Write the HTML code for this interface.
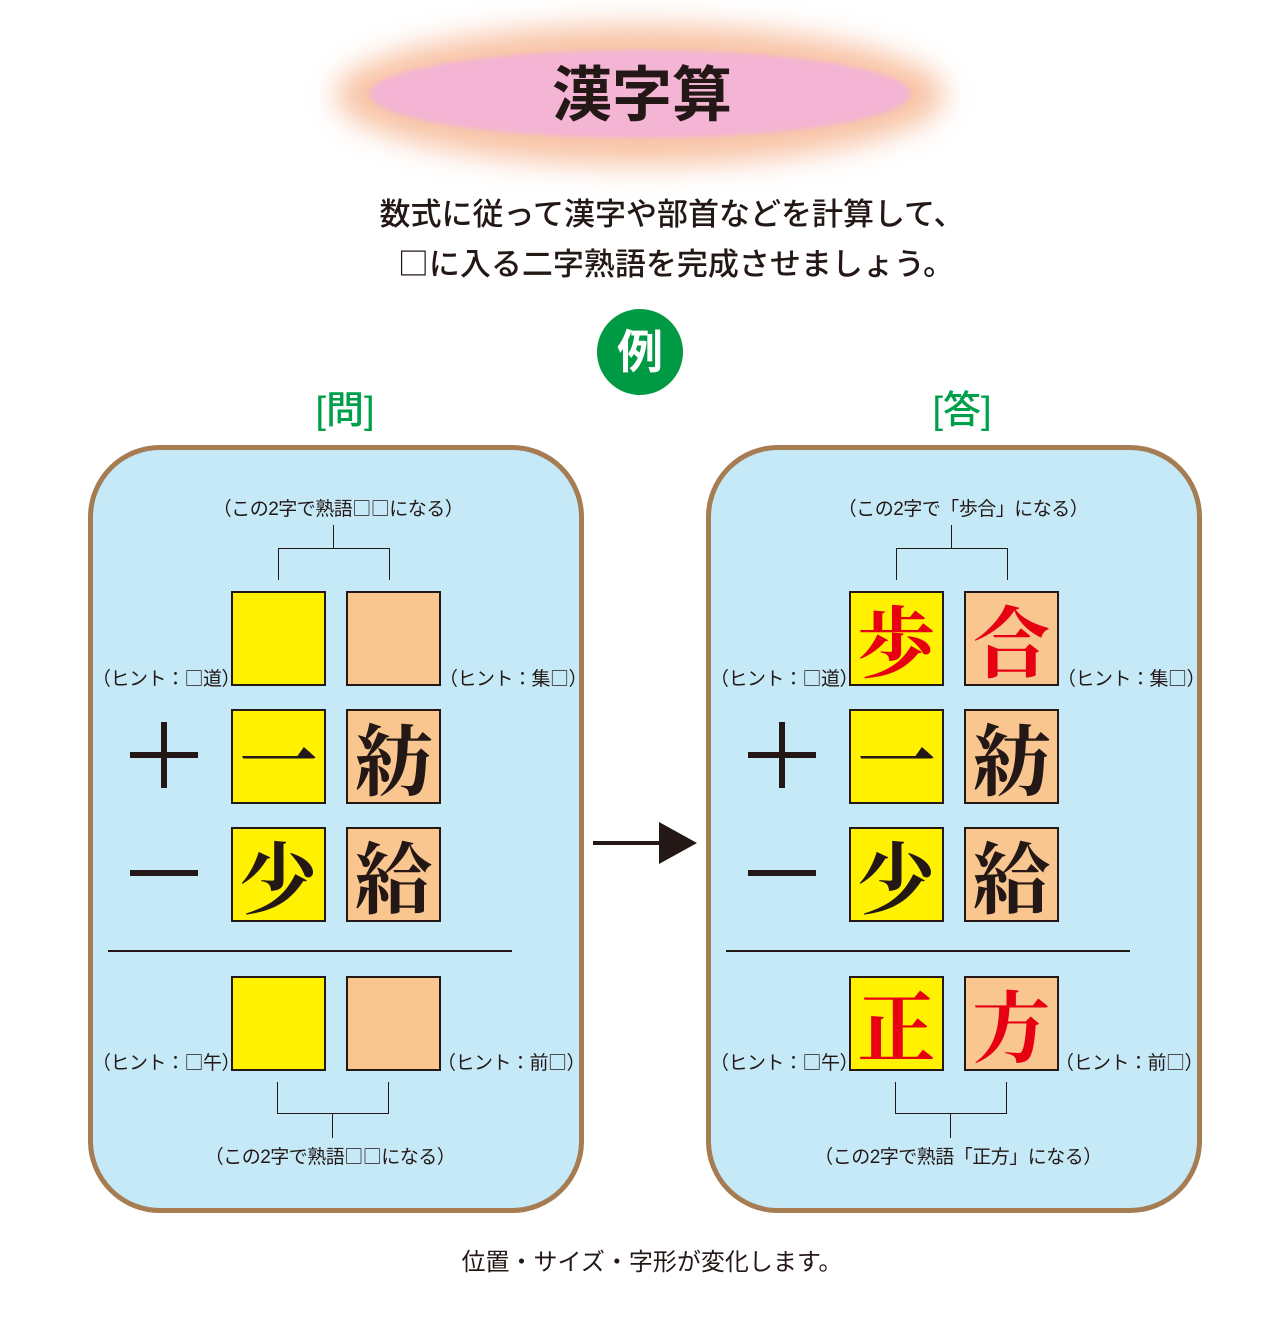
<!DOCTYPE html>
<html><head><meta charset="utf-8"><style>
body{margin:0;width:1280px;height:1327px;background:#fff;position:relative;overflow:hidden;font-family:"Liberation Sans","Noto Sans CJK JP",sans-serif;color:#231815}
.a{position:absolute}
.t{position:absolute;white-space:nowrap;transform:translateX(-50%)}
.panel{position:absolute;top:445px;width:486px;height:758px;border:5px solid #a67c52;border-radius:72px;background:#c6e9f8}
.box{position:absolute;width:91px;height:91px;border:2px solid #231815;font-family:"Noto Serif CJK JP","Noto Serif CJK SC",serif;font-size:78px;line-height:91px;text-align:center;font-weight:700}
.y{background:#fff100}.o{background:#fac68f}
.r{color:#e60012}
.ln{position:absolute;background:#231815}
.s{font-size:19px;letter-spacing:-0.5px}
.q{font-family:"Noto Sans CJK JP",sans-serif}
</style></head><body>
<div class="a" style="left:335px;top:25px;width:610px;height:140px;border-radius:50%;background:#f8c4a6;filter:blur(14px)"></div>
<div class="a" style="left:370px;top:50px;width:540px;height:88px;border-radius:50%;background:#f4b4d4;filter:blur(2px)"></div>
<div class="t" style="left:642px;top:56px;font-size:60px;font-weight:bold;line-height:80px">漢字算</div>
<div class="t" style="left:672px;top:194px;font-size:31px;line-height:42px;font-weight:500">数式に従って漢字や部首などを計算して、</div>
<div class="t" style="left:676px;top:241px;font-size:31px;line-height:42px;font-weight:500"><span class="q">□</span>に入る二字熟語を完成させましょう。</div>
<div class="a" style="left:597px;top:309px;width:86px;height:86px;border-radius:50%;background:#009944"></div>
<div class="t" style="left:640px;top:322px;font-size:46px;line-height:60px;color:#fff;font-weight:bold">例</div>
<div class="t" style="left:345px;top:388px;font-size:38px;line-height:46px;color:#00a04a;font-weight:500">[問]</div>
<div class="t" style="left:962px;top:388px;font-size:38px;line-height:46px;color:#00a04a;font-weight:500">[答]</div>
<div class="panel" style="left:88px"></div>
<div class="panel" style="left:706px"></div>
<div class="ln" style="left:593px;top:841px;width:70px;height:4px"></div>
<div class="a" style="left:659px;top:822px;width:0;height:0;border-top:21px solid transparent;border-bottom:21px solid transparent;border-left:38px solid #231815"></div>
<div class="t" style="left:652px;top:1246px;font-size:24px;line-height:34px">位置・サイズ・字形が変化します。</div>

<!-- left panel -->
<div class="a" style="left:0;top:0">
<div class="t s" style="left:338px;top:494px">（この2字で熟語<span class="q">□□</span>になる）</div>
<div class="ln" style="left:333px;top:525px;width:1px;height:23px"></div>
<div class="ln" style="left:278px;top:548px;width:112px;height:1px"></div>
<div class="ln" style="left:278px;top:548px;width:1px;height:32px"></div>
<div class="ln" style="left:389px;top:548px;width:1px;height:32px"></div>
<div class="box y" style="left:231px;top:591px"></div>
<div class="box o" style="left:346px;top:591px"></div>
<div class="t s" style="left:166px;top:664px">（ヒント：<span class="q">□</span>道）</div>
<div class="t s" style="left:513px;top:664px">（ヒント：集<span class="q">□</span>）</div>
<div class="ln" style="left:130px;top:752px;width:68px;height:6px"></div>
<div class="ln" style="left:161px;top:722px;width:6px;height:66px"></div>
<div class="ln" style="left:130px;top:870px;width:68px;height:6px"></div>
<div class="box y" style="left:231px;top:709px">一</div>
<div class="box o" style="left:346px;top:709px">紡</div>
<div class="box y" style="left:231px;top:827px">少</div>
<div class="box o" style="left:346px;top:827px">給</div>
<div class="ln" style="left:108px;top:950px;width:404px;height:2px"></div>
<div class="box y" style="left:231px;top:976px"></div>
<div class="box o" style="left:346px;top:976px"></div>
<div class="t s" style="left:166px;top:1048px">（ヒント：<span class="q">□</span>午）</div>
<div class="t s" style="left:511px;top:1048px">（ヒント：前<span class="q">□</span>）</div>
<div class="ln" style="left:277px;top:1082px;width:1px;height:31px"></div>
<div class="ln" style="left:388px;top:1082px;width:1px;height:31px"></div>
<div class="ln" style="left:277px;top:1113px;width:112px;height:1px"></div>
<div class="ln" style="left:332px;top:1113px;width:1px;height:25px"></div>
<div class="t s" style="left:330px;top:1142px">（この2字で熟語<span class="q">□□</span>になる）</div>
</div>

<!-- right panel -->
<div class="a" style="left:618px;top:0">
<div class="t s" style="left:345px;top:494px">（この2字で「歩合」になる）</div>
<div class="ln" style="left:333px;top:525px;width:1px;height:23px"></div>
<div class="ln" style="left:278px;top:548px;width:112px;height:1px"></div>
<div class="ln" style="left:278px;top:548px;width:1px;height:32px"></div>
<div class="ln" style="left:389px;top:548px;width:1px;height:32px"></div>
<div class="box y r" style="left:231px;top:591px">歩</div>
<div class="box o r" style="left:346px;top:591px">合</div>
<div class="t s" style="left:166px;top:664px">（ヒント：<span class="q">□</span>道）</div>
<div class="t s" style="left:513px;top:664px">（ヒント：集<span class="q">□</span>）</div>
<div class="ln" style="left:130px;top:752px;width:68px;height:6px"></div>
<div class="ln" style="left:161px;top:722px;width:6px;height:66px"></div>
<div class="ln" style="left:130px;top:870px;width:68px;height:6px"></div>
<div class="box y" style="left:231px;top:709px">一</div>
<div class="box o" style="left:346px;top:709px">紡</div>
<div class="box y" style="left:231px;top:827px">少</div>
<div class="box o" style="left:346px;top:827px">給</div>
<div class="ln" style="left:108px;top:950px;width:404px;height:2px"></div>
<div class="box y r" style="left:231px;top:976px">正</div>
<div class="box o r" style="left:346px;top:976px">方</div>
<div class="t s" style="left:166px;top:1048px">（ヒント：<span class="q">□</span>午）</div>
<div class="t s" style="left:511px;top:1048px">（ヒント：前<span class="q">□</span>）</div>
<div class="ln" style="left:277px;top:1082px;width:1px;height:31px"></div>
<div class="ln" style="left:388px;top:1082px;width:1px;height:31px"></div>
<div class="ln" style="left:277px;top:1113px;width:112px;height:1px"></div>
<div class="ln" style="left:332px;top:1113px;width:1px;height:25px"></div>
<div class="t s" style="left:340px;top:1142px">（この2字で熟語「正方」になる）</div>
</div>
</body></html>
